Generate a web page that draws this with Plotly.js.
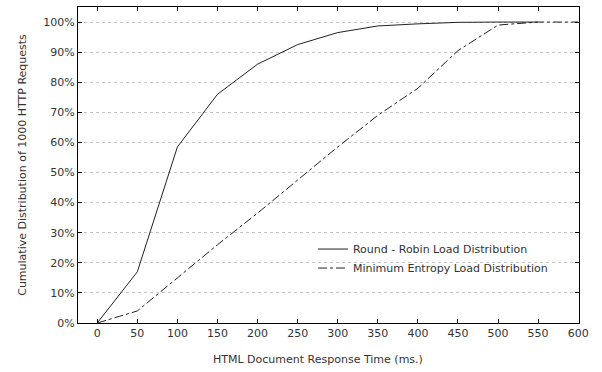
<!DOCTYPE html>
<html><head><meta charset="utf-8">
<script src="https://cdn.plot.ly/plotly-3.0.1.min.js"></script>
<style>html,body{margin:0;padding:0;background:#fff}#chart{width:602px;height:372px}</style>
</head><body><div id="chart"></div>
<script>
const times = [0, 50, 100, 150, 200, 250, 300, 350, 400, 450, 500, 550];
const roundRobin = [0, 17, 58.5, 76, 86, 92.5, 96.5, 98.7, 99.4, 99.9, 100, 100];
const timesME = [0, 50, 100, 150, 200, 250, 300, 350, 400, 450, 500, 550, 600];
const minEntropy = [0, 4, 15, 26, 36.5, 47.5, 58.5, 69, 78, 90.5, 99, 100, 100];
const xTicks = [0, 50, 100, 150, 200, 250, 300, 350, 400, 450, 500, 550, 600];
const yTicks = [0, 10, 20, 30, 40, 50, 60, 70, 80, 90, 100];
const yTickText = yTicks.map(v => v + '%');

const font = {family: 'DejaVu Sans, sans-serif', size: 11, color: '#333'};
const traces = [
  {x: times, y: roundRobin, mode: 'lines', name: 'Round - Robin Load Distribution',
   line: {color: '#222', width: 1}},
  {x: timesME, y: minEntropy, mode: 'lines', name: 'Minimum Entropy Load Distribution',
   line: {color: '#222', width: 1, dash: 'dashdot'}}
];
const layout = {
  width: 602, height: 372,
  margin: {l: 78, r: 23, t: 7, b: 49},
  paper_bgcolor: '#fff', plot_bgcolor: '#fff',
  font: font,
  showlegend: true,
  legend: {x: 0.469, y: 0.204, xanchor: 'left', yanchor: 'middle', bgcolor: 'rgba(0,0,0,0)',
           font: font, tracegroupgap: 0, itemwidth: 30},
  xaxis: {range: [-24, 601], tickvals: xTicks, ticktext: xTicks.map(String),
          ticks: 'inside', ticklen: 4, tickcolor: '#000', showline: true, linecolor: '#000',
          linewidth: 1, mirror: 'ticks', showgrid: false, zeroline: false,
          tickfont: font},
  yaxis: {range: [0, 105], tickvals: yTicks, ticktext: yTickText,
          ticks: 'inside', ticklen: 4, tickcolor: '#000', showline: true, linecolor: '#000',
          linewidth: 1, mirror: 'ticks', showgrid: true, gridcolor: '#c4c4c4', griddash: 'dot',
          gridwidth: 1, zeroline: false, tickfont: font,
          title: {text: 'Cumulative Distribution of 1000 HTTP Requests', font: font, standoff: 14}},
  annotations: [{text: 'HTML Document Response Time (ms.)', xref: 'paper', yref: 'paper',
                 x: 0.479, y: -0.117, xanchor: 'center', yanchor: 'middle', showarrow: false,
                 font: font}]
};
Plotly.newPlot('chart', traces, layout, {staticPlot: true, displayModeBar: false});
</script></body></html>
